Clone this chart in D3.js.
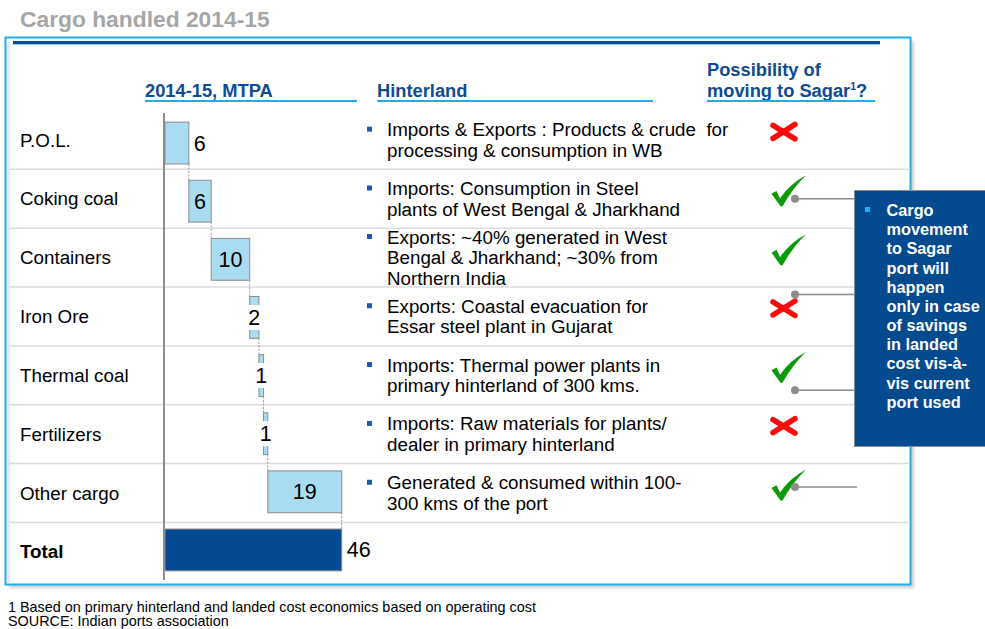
<!DOCTYPE html>
<html>
<head>
<meta charset="utf-8">
<script src="https://cdn.jsdelivr.net/npm/d3@7/dist/d3.min.js"></script>
<style>
  body { margin: 0; background: #fff; }
  svg { display: block; font-family: "Liberation Sans", Arial, sans-serif; }
</style>
</head>
<body>
<svg width="985" height="629"></svg>
<script>
// ---- data ----
const categories = ['P.O.L.', 'Coking coal', 'Containers', 'Iron Ore', 'Thermal coal', 'Fertilizers', 'Other cargo'];
const volumes = [6.2, 5.8, 10.0, 2.4, 1.2, 1.1, 19.2];   // MTPA, 2014-15
const totalLabel = 'Total';

const hinterland = [
  ['Imports & Exports : Products & crude\u00a0 for', 'processing & consumption in WB'],
  ['Imports: Consumption in Steel', 'plants of West Bengal & Jharkhand'],
  ['Exports: ~40% generated in West', 'Bengal & Jharkhand; ~30% from', 'Northern India'],
  ['Exports: Coastal evacuation for', 'Essar steel plant in Gujarat'],
  ['Imports: Thermal power plants in', 'primary hinterland of 300 kms.'],
  ['Imports: Raw materials for plants/', 'dealer in primary hinterland'],
  ['Generated & consumed within 100-', '300 kms of the port']
];
const movable = [false, true, true, false, true, false, true];

const calloutLines = ['Cargo', 'movement', 'to Sagar', 'port will', 'happen', 'only in case',
  'of savings', 'in landed', 'cost vis-à-', 'vis current', 'port used'];
const calloutRows = ['Coking coal', 'Iron Ore', 'Thermal coal', 'Other cargo'];

const footnotes = ['1 Based on primary hinterland and landed cost economics based on operating cost',
  'SOURCE: Indian ports association'];

// ---- setup ----
const svg = d3.select('svg');
const allRows = categories.concat([totalLabel]);
const blue = '#0E4C92';
const cyan = '#1CB0EA';

const rowY = d3.scaleBand().domain(allRows).range([110.5, 581.3]);
const barY = d3.scaleBand().domain(allRows).range([114, 579])
  .paddingInner(0.28).paddingOuter(0.14);
const rowMid = c => rowY(c) + rowY.bandwidth() / 2;

let cum = 0;
const steps = volumes.map((v, i) => {
  const s = { cat: categories[i], v, x0: cum, x1: cum + v };
  cum += v;
  return s;
});
const total = d3.sum(volumes);
const x = d3.scaleLinear().domain([0, total]).range([165, 341.7]);
const fmt = d3.format('.0f');

// title
svg.append('text').attr('x', 20).attr('y', 26.5)
  .attr('font-size', 22.8).attr('font-weight', 'bold').attr('fill', '#A6A6A6')
  .text('Cargo handled 2014-15');

// frame + shadow
const defs = svg.append('defs');
defs.append('filter').attr('id', 'blur').append('feGaussianBlur').attr('stdDeviation', 1.5);
svg.append('rect').attr('x', 9).attr('y', 41).attr('width', 905).attr('height', 547)
  .attr('fill', '#cfcfcf').attr('filter', 'url(#blur)');
svg.append('rect').attr('x', 5.5).attr('y', 37.5).attr('width', 905).attr('height', 547)
  .attr('fill', '#fff').attr('stroke', cyan).attr('stroke-width', 2);
svg.append('rect').attr('x', 7).attr('y', 44).attr('width', 3).attr('height', 539).attr('fill', '#e8e8e8');
svg.append('rect').attr('x', 13).attr('y', 41).attr('width', 867).attr('height', 3).attr('fill', blue);
svg.append('rect').attr('x', 13).attr('y', 44).attr('width', 867).attr('height', 1).attr('fill', '#8fd3f2');

// row separators
svg.append('g').selectAll('line').data(allRows.slice(1)).join('line')
  .attr('x1', 9).attr('x2', 910)
  .attr('y1', d => rowY(d)).attr('y2', d => rowY(d))
  .attr('stroke', '#DCDCDC').attr('stroke-width', 1.5);

// column headers
const headers = [
  { x: 145, x2: 357, lines: ['2014-15, MTPA'] },
  { x: 377, x2: 653, lines: ['Hinterland'] },
  { x: 707, x2: 875, lines: ['Possibility of', 'moving to Sagar'] }
];
headers.forEach(h => {
  const t = svg.append('text').attr('font-size', 18.3).attr('font-weight', 'bold').attr('fill', blue);
  h.lines.forEach((l, i) => {
    t.append('tspan').attr('x', h.x).attr('y', 97 - (h.lines.length - 1 - i) * 21).text(l);
  });
  if (h.lines.length > 1) {
    t.append('tspan').attr('font-size', 10.5).attr('dy', -7).text('1');
    t.append('tspan').attr('dy', 7).text('?');
  }
  svg.append('rect').attr('x', h.x).attr('y', 100).attr('width', h.x2 - h.x).attr('height', 2).attr('fill', cyan);
});

// category labels
svg.append('g').selectAll('text').data(allRows).join('text')
  .attr('x', 20).attr('y', d => rowMid(d)).attr('dy', '0.35em')
  .attr('font-size', 18.8).attr('fill', '#000')
  .attr('font-weight', d => d === totalLabel ? 'bold' : 'normal')
  .text(d => d);

// waterfall bars
const gBars = svg.append('g');
gBars.selectAll('rect.step').data(steps).join('rect').attr('class', 'step')
  .attr('x', d => x(d.x0)).attr('width', d => x(d.x1) - x(d.x0))
  .attr('y', d => barY(d.cat)).attr('height', barY.bandwidth())
  .attr('fill', '#A9DCF0').attr('stroke', '#8C8C8C').attr('stroke-width', 1);
gBars.append('rect')
  .attr('x', x(0)).attr('width', x(total) - x(0))
  .attr('y', barY(totalLabel)).attr('height', barY.bandwidth())
  .attr('fill', '#034A8E').attr('stroke', '#8C8C8C').attr('stroke-width', 1);

// dotted connectors between bars
const nextCat = i => allRows[i + 1];
gBars.selectAll('line.conn').data(steps).join('line').attr('class', 'conn')
  .attr('x1', d => x(d.x1)).attr('x2', d => x(d.x1))
  .attr('y1', d => barY(d.cat) + barY.bandwidth())
  .attr('y2', (d, i) => barY(nextCat(i)))
  .attr('stroke', '#9A9A9A').attr('stroke-width', 1).attr('stroke-dasharray', '2,1.5');

// value labels: first bar outside, narrow bars split by a knock-out, others inside
steps.forEach((d, i) => {
  const w = x(d.x1) - x(d.x0);
  const cy = barY(d.cat) + barY.bandwidth() / 2;
  const cx = (x(d.x0) + x(d.x1)) / 2;
  if (i === 0) {
    gBars.append('text').attr('x', x(d.x1) + 5).attr('y', cy).attr('dy', '0.35em')
      .attr('font-size', 21.5).text(fmt(d.v));
  } else if (w < 15) {
    gBars.append('rect').attr('x', cx - 8).attr('y', cy - 12.5).attr('width', 16).attr('height', 25).attr('fill', '#fff');
    gBars.append('text').attr('x', cx).attr('y', cy).attr('dy', '0.35em')
      .attr('text-anchor', 'middle').attr('font-size', 21.5).text(fmt(d.v));
  } else {
    gBars.append('text').attr('x', cx).attr('y', cy).attr('dy', '0.35em')
      .attr('text-anchor', 'middle').attr('font-size', 21.5).text(fmt(d.v));
  }
});
gBars.append('text').attr('x', x(total) + 5)
  .attr('y', barY(totalLabel) + barY.bandwidth() / 2).attr('dy', '0.35em')
  .attr('font-size', 21.5).text(fmt(total));

// axis line
svg.append('line').attr('x1', 164).attr('x2', 164).attr('y1', 113).attr('y2', 580)
  .attr('stroke', '#8C8C8C').attr('stroke-width', 2);

// hinterland text
const lh = 20.7;
categories.forEach((c, i) => {
  const lines = hinterland[i];
  const y0 = rowMid(c) - (lines.length - 1) * lh / 2 + 6.6;
  svg.append('rect').attr('x', 367).attr('y', y0 - 9.5).attr('width', 5).attr('height', 5).attr('fill', '#1F5AA6');
  const t = svg.append('text').attr('font-size', 18.8).attr('fill', '#000');
  lines.forEach((l, j) => t.append('tspan').attr('x', 387).attr('y', y0 + j * lh).text(l));
});

// possibility marks
const checkPath = 'M-8.5,-11 L-3.5,-13.8 L0,-6.5 Q10,-21 26,-29.5 Q13,-17 2.5,1.5 L0.5,1.5 Z';
categories.forEach((c, i) => {
  const cy = rowMid(c);
  if (movable[i]) {
    svg.append('path').attr('d', checkPath)
      .attr('transform', `translate(780,${cy + 6})`).attr('fill', '#0A9A0A');
  } else {
    const g = svg.append('g').attr('transform', `translate(784,${cy - 8})`)
      .attr('stroke', '#FF0A0A').attr('stroke-width', 5.5).attr('stroke-linecap', 'round');
    g.append('line').attr('x1', -11).attr('y1', -6.5).attr('x2', 11).attr('y2', 7);
    g.append('line').attr('x1', 11).attr('y1', -7.5).attr('x2', -11).attr('y2', 6.5);
  }
});

// callout connectors
const connOffsets = [0, -22, 15, -6];
calloutRows.forEach((c, i) => {
  const y = rowMid(c) + connOffsets[i];
  const xEnd = c === 'Other cargo' ? 857 : 854;
  svg.append('line').attr('x1', 795).attr('x2', xEnd).attr('y1', y).attr('y2', y)
    .attr('stroke', '#8C8C8C').attr('stroke-width', 1.5);
  svg.append('circle').attr('cx', 795).attr('cy', y).attr('r', 4).attr('fill', '#8C8C8C');
});

// callout box
svg.append('rect').attr('x', 854.5).attr('y', 190.5).attr('width', 140).attr('height', 256)
  .attr('fill', '#034A8E').attr('stroke', '#8C8C8C').attr('stroke-width', 1);
svg.append('rect').attr('x', 865).attr('y', 207).attr('width', 5).attr('height', 5).attr('fill', '#19B4F0');
const ct = svg.append('text').attr('font-size', 16.3).attr('font-weight', 'bold').attr('fill', '#fff');
calloutLines.forEach((l, i) => ct.append('tspan').attr('x', 886.5).attr('y', 216 + i * 19.17).text(l));

// footnotes
svg.append('g').selectAll('text').data(footnotes).join('text')
  .attr('x', 8).attr('y', (d, i) => 611.5 + i * 14.5)
  .attr('font-size', 14.4).attr('fill', '#000').text(d => d);
</script>
</body>
</html>
